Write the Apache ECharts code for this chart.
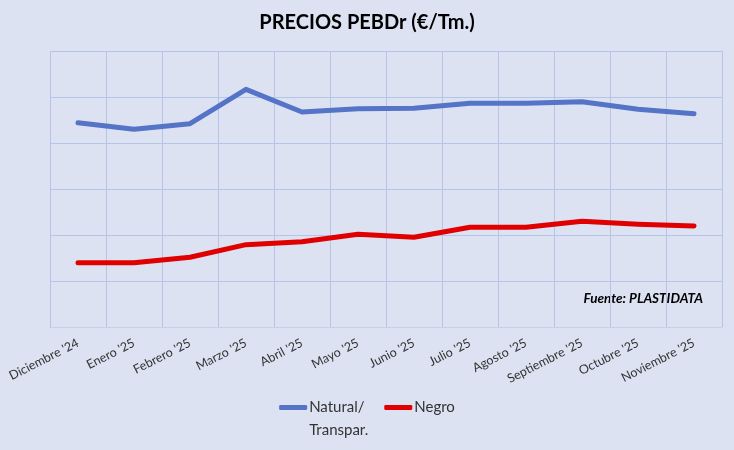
<!DOCTYPE html>
<html>
<head>
<meta charset="utf-8">
<style>
html, body { margin: 0; padding: 0; background: #dce2f2; }
#chart { width: 734px; height: 450px; }
</style>
</head>
<body>
<div id="chart"></div>
<script src="https://cdn.jsdelivr.net/npm/echarts@6/dist/echarts.min.js"></script>
<script>
var months = ["Diciembre '24", "Enero '25", "Febrero '25", "Marzo '25", "Abril '25", "Mayo '25",
    "Junio '25", "Julio '25", "Agosto '25", "Septiembre '25", "Octubre '25", "Noviembre '25"];
var natural = [1332, 1289, 1326, 1550, 1402, 1424, 1426, 1459, 1459, 1469, 1420, 1391];
var negro = [419, 419, 455, 537, 556, 605, 585, 650, 650, 689, 670, 659];

var myChart = echarts.init(document.getElementById('chart'));
var option = {
    backgroundColor: '#dce2f2',
    animation: false,
    textStyle: { fontFamily: 'Lato' },
    title: {
        text: 'PRECIOS PEBDr (€/Tm.)',
        left: 'center',
        top: 8,
        textStyle: { fontSize: 20, fontWeight: 'bold', color: '#000', fontFamily: 'Lato' }
    },
    legend: {
        bottom: 3,
        left: 'center',
        itemWidth: 28,
        itemHeight: 5,
        itemGap: 16,
        textStyle: { fontSize: 15, color: '#333', lineHeight: 23, padding: [0, 0, 0, -3] },
        // push the wrapped name down so its first line sits level with the icon
        formatter: function (name) {
            return name.indexOf('\n') >= 0 ? ' \n' + name : name;
        },
        data: [
            { name: 'Natural/\nTranspar.', icon: 'roundRect', itemStyle: { color: '#5574c7' } },
            { name: 'Negro', icon: 'roundRect', itemStyle: { color: '#e00000' } }
        ]
    },
    grid: { left: 50, right: 12, top: 51, bottom: 123 },
    xAxis: {
        type: 'category',
        data: months,
        boundaryGap: true,
        axisLine: { lineStyle: { color: '#c9cfdd', width: 1 } },
        axisTick: { show: false },
        splitLine: { show: true, lineStyle: { color: '#b5c5e6', width: 1 } },
        axisLabel: { rotate: 27, color: '#333', fontSize: 12.5, margin: 15, interval: 0 }
    },
    yAxis: {
        type: 'value',
        min: 0,
        max: 1800,
        interval: 300,
        axisLabel: { show: false },
        axisLine: { show: false },
        axisTick: { show: false },
        splitLine: { lineStyle: { color: '#b5c5e6', width: 1 } }
    },
    graphic: [
        {
            type: 'text',
            right: 31,
            top: 292,
            style: { text: 'Fuente: PLASTIDATA', font: 'italic bold 13.5px Lato', fill: '#000' }
        }
    ],
    series: [
        {
            name: 'Natural/\nTranspar.',
            type: 'line',
            data: natural,
            symbol: 'none',
            lineStyle: { color: '#5574c7', width: 5, cap: 'round', join: 'round' },
            itemStyle: { color: '#5574c7' }
        },
        {
            name: 'Negro',
            type: 'line',
            data: negro,
            symbol: 'none',
            lineStyle: { color: '#e00000', width: 5, cap: 'round', join: 'round' },
            itemStyle: { color: '#e00000' }
        }
    ]
};
myChart.setOption(option);
</script>
</body>
</html>
